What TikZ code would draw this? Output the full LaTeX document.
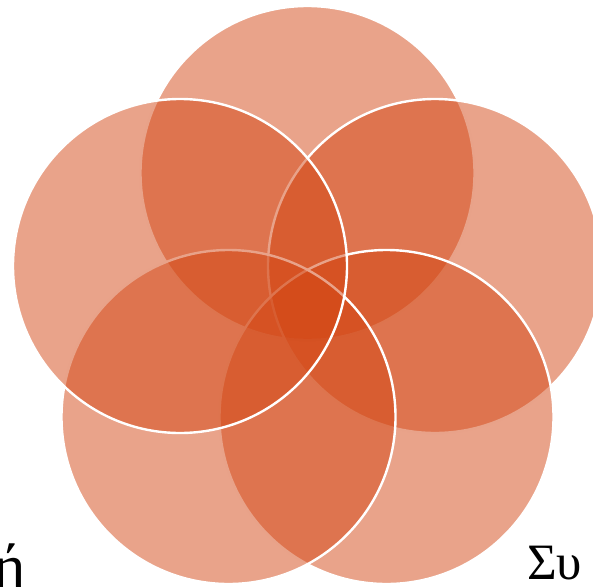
\documentclass[tikz,border=0pt]{standalone}
\usepackage{fontspec}
\setmainfont{Liberation Serif}
\definecolor{venn}{RGB}{211,71,21}
\begin{document}
\begin{tikzpicture}[x=1pt,y=-1pt,
  vennc/.style={circle, inner sep=0pt, minimum size=334pt, fill=venn, fill opacity=0.5, draw=white, draw opacity=1, line width=2.4pt},
  lab/.style={inner sep=0pt, text=black}]
\useasboundingbox (0,0) rectangle (593,586);
\node[vennc] (top) at (307.5,173) {};
\node[vennc] (right) at (435,266) {};
\node[vennc] (bright) at (386.5,417) {};
\node[vennc] (bleft) at (228.5,417) {};
\node[vennc] (left) at (180,266) {};
\node[lab, font=\fontsize{62}{70}\selectfont, anchor=base east] (t1) at (26,587) {ή};
\node[lab, font=\fontsize{51}{60}\selectfont, anchor=base west] (t2) at (527,579) {Συ};
\end{tikzpicture}
\end{document}
